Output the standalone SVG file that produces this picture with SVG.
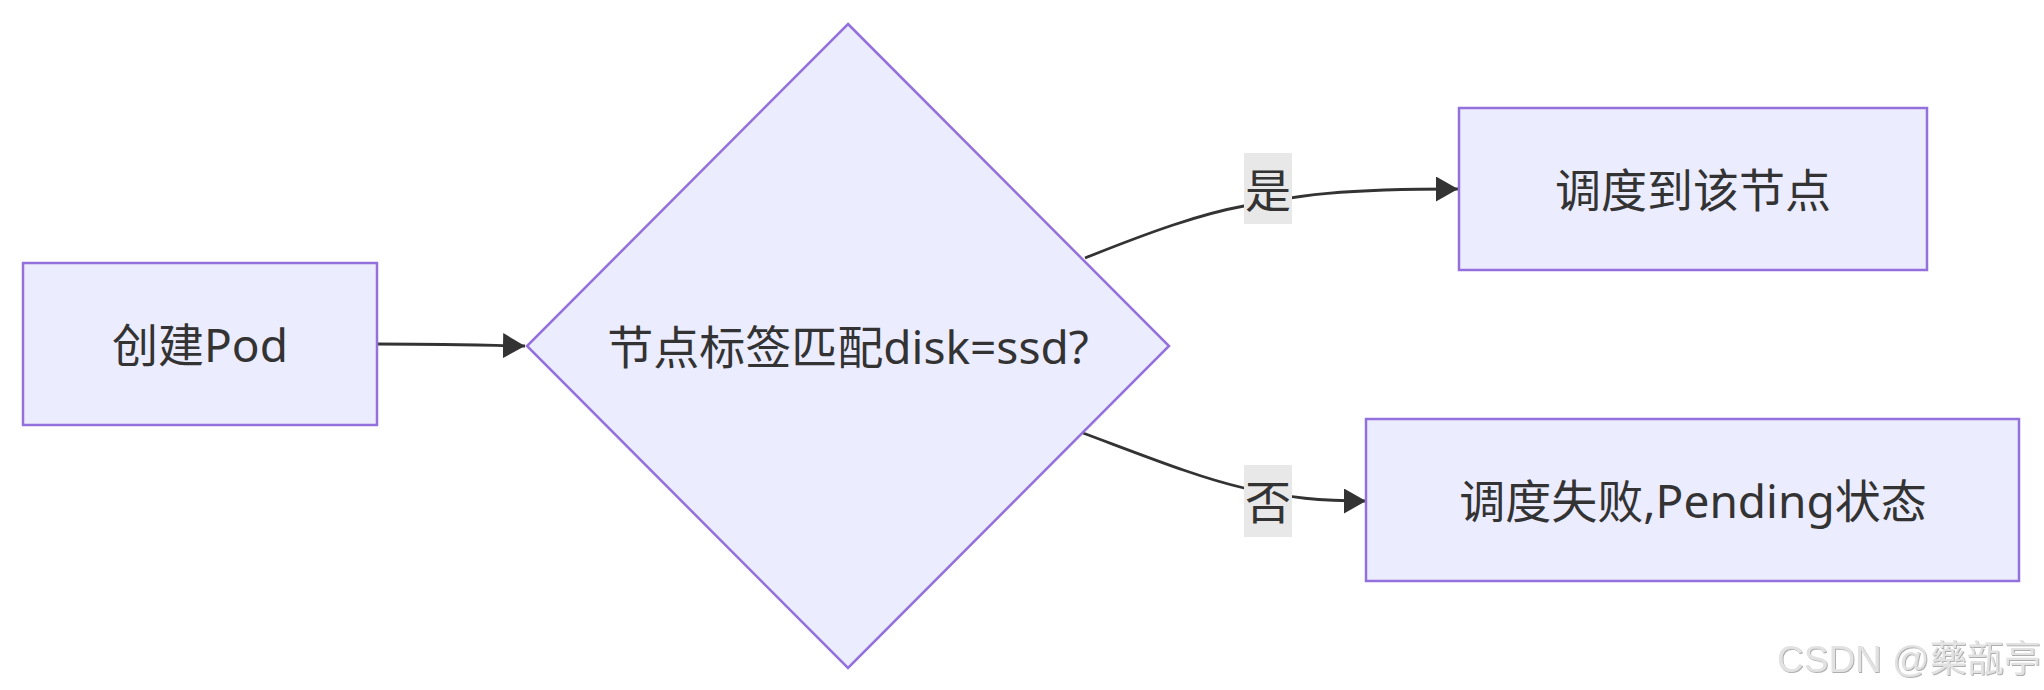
<svg xmlns="http://www.w3.org/2000/svg" width="2044" height="690" viewBox="0 0 2044 690">
<style>
.node{fill:#ECECFF;stroke:#9370DB;stroke-width:2.5}
.lbl{font-family:"Noto Sans","Noto Sans CJK SC",sans-serif;font-size:46px;fill:#333;text-anchor:middle;dominant-baseline:central}
.edge{fill:none;stroke:#333;stroke-width:2.8}
.ebg{fill:#e8e8e8}
.wm{font-family:"Liberation Sans","Noto Sans CJK SC",sans-serif;font-size:37px;fill:#e2e2e2}
</style>
<defs>
<marker id="arr" markerUnits="userSpaceOnUse" markerWidth="24" markerHeight="26" refX="22" refY="12.5" orient="auto" viewBox="0 0 24 26">
<path d="M0,0 L22,12.5 L0,25 Z" fill="#333"/>
</marker>
<filter id="sh" x="-5%" y="-20%" width="110%" height="140%">
<feDropShadow dx="1" dy="1" stdDeviation="0.6" flood-color="#9a9a9a" flood-opacity="0.8"/>
</filter>
</defs>
<g id="edges">
<path class="edge" d="M377,344 C430,344 470,345 525,346" marker-end="url(#arr)"/>
<path class="edge" d="M1085,258 C1150,232 1200,214 1244,206 C1300,195 1340,189 1458,189" marker-end="url(#arr)"/>
<path class="edge" d="M1083,433 C1150,458 1200,478 1244,488 C1290,498 1320,501 1366,501" marker-end="url(#arr)"/>
</g>
<g id="edge-labels">
<g id="label-yes"><rect class="ebg" x="1244" y="153" width="48" height="71"/><text class="lbl" x="1268" y="189">是</text></g>
<g id="label-no"><rect class="ebg" x="1244" y="465" width="48" height="72"/><text class="lbl" x="1268" y="501">否</text></g>
</g>
<g id="node-create">
<rect class="node" x="23" y="263" width="354" height="162"/>
<text class="lbl" x="200" y="344">创建Pod</text>
</g>
<g id="node-decision">
<polygon class="node" points="848,24 1169,346 848,668 527,346"/>
<text class="lbl" x="848" y="346">节点标签匹配disk=ssd?</text>
</g>
<g id="node-schedule">
<rect class="node" x="1459" y="108" width="468" height="162"/>
<text class="lbl" x="1693" y="189">调度到该节点</text>
</g>
<g id="node-pending">
<rect class="node" x="1366" y="419" width="653" height="162"/>
<text class="lbl" x="1693" y="500">调度失败,Pending状态</text>
</g>
<text class="wm" x="1777" y="672" filter="url(#sh)">CSDN @藥瓿亭</text>
</svg>
